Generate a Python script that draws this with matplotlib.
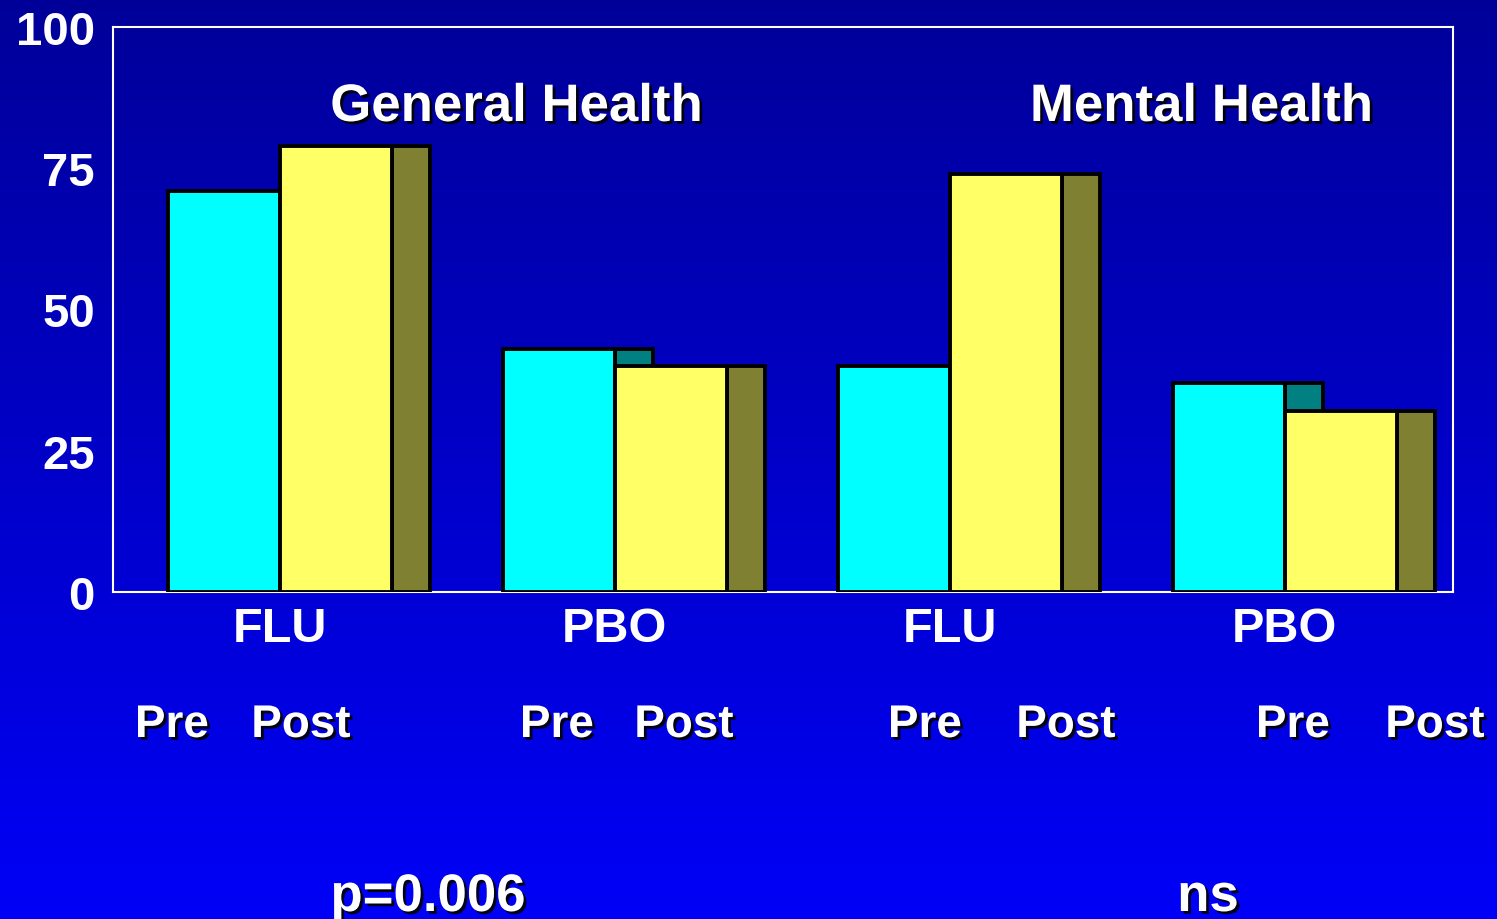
import numpy as np
import matplotlib
matplotlib.use('Agg')
import matplotlib.pyplot as plt
import matplotlib.patheffects as pe

plt.rcParams['font.family'] = ['Liberation Sans', 'DejaVu Sans']
plt.rcParams['font.weight'] = 'bold'

# data
groups = ['FLU', 'PBO', 'FLU', 'PBO']
pre = [71, 43, 40, 37]
post = [79, 40, 74, 32]
panels = ['General Health', 'Mental Health']
stats = ['p=0.006', 'ns']
yticks = [0, 25, 50, 75, 100]

fig = plt.figure(figsize=(14.97, 9.2), dpi=100)

# blue gradient background
bg = fig.add_axes([0, 0, 1, 1], zorder=-10)
grad = np.linspace(0.60, 0.97, 256)
img = np.zeros((256, 1, 3))
img[:, 0, 2] = grad
bg.imshow(img, aspect='auto', extent=[0, 1, 0, 1], origin='upper')
bg.axis('off')

ax = fig.add_axes([113 / 1497, 1 - 593 / 920, 1340 / 1497, 565 / 920])
ax.patch.set_alpha(0)

x = np.arange(len(groups)) + 0.164
w = 0.334
d = 0.115
ec = 'black'
lw = 2.8

ax.bar(x + w, pre, width=d, align='edge', color='#008080', edgecolor=ec, linewidth=lw, zorder=3)
ax.bar(x, pre, width=w, align='edge', color='#00FFFF', edgecolor=ec, linewidth=lw, zorder=3)
ax.bar(x + 2 * w, post, width=d, align='edge', color='#808033', edgecolor=ec, linewidth=lw, zorder=3)
ax.bar(x + w, post, width=w, align='edge', color='#FFFF66', edgecolor=ec, linewidth=lw, zorder=3)

ax.set_xlim(0, len(groups))
ax.set_ylim(0, 100)
ax.set_yticks(yticks)
ax.set_yticklabels([str(t) for t in yticks], color='white', fontsize=34, fontweight='bold')
ax.set_xticks(x + w)
ax.set_xticklabels(groups, color='white', fontsize=35, fontweight='bold')
ax.tick_params(axis='y', length=0, pad=13)
ax.tick_params(axis='x', length=0, pad=10)
for s in ax.spines.values():
    s.set_color('white')
    s.set_linewidth(1.5)
    s.set_zorder(2)

shadow = [pe.SimplePatchShadow(offset=(2, -2), shadow_rgbFace='black', alpha=0.9), pe.Normal()]

# panel titles
for px, t in zip([516, 1201], panels):
    fig.text(px / 1497, 1 - 108 / 920, t, color='white', fontsize=38, fontweight='bold',
             ha='center', va='center', path_effects=shadow)

# Pre / Post labels
pre_x = [172, 557, 925, 1293]
post_x = [301, 684, 1066, 1435]
for a, b in zip(pre_x, post_x):
    fig.text(a / 1497, 1 - 726 / 920, 'Pre', color='white', fontsize=33, fontweight='bold',
             ha='center', va='center', path_effects=shadow)
    fig.text(b / 1497, 1 - 726 / 920, 'Post', color='white', fontsize=33, fontweight='bold',
             ha='center', va='center', path_effects=shadow)

# stats (bottom edge cut like the original slide)
for px, t in zip([428, 1208], stats):
    fig.text(px / 1497, 1 - 912 / 920, t, color='white', fontsize=38, fontweight='bold',
             ha='center', va='baseline', path_effects=shadow)

fig.savefig('out.png', dpi=100)
